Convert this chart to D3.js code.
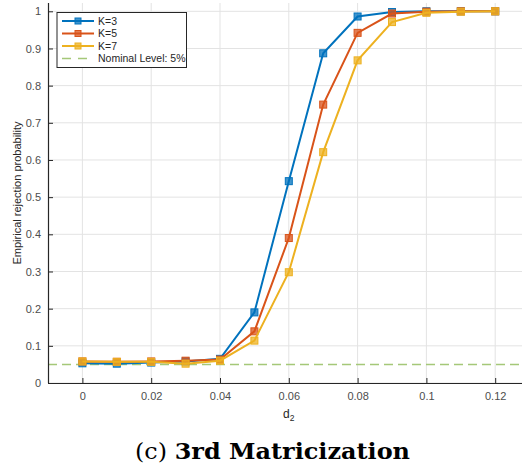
<!DOCTYPE html>
<html>
<head>
<meta charset="utf-8">
<script src="https://cdn.jsdelivr.net/npm/d3@7"></script>
<style>
html,body{margin:0;padding:0;background:#fff;}
svg{display:block;}
</style>
</head>
<body>
<svg id="chart" width="522" height="470"></svg>
<script>
const d2 = [0, 0.01, 0.02, 0.03, 0.04, 0.05, 0.06, 0.07, 0.08, 0.09, 0.10, 0.11, 0.12];
const k3 = [0.053, 0.052, 0.055, 0.058, 0.065, 0.19, 0.543, 0.887, 0.986, 0.998, 1.0, 1.0, 1.0];
const k5 = [0.058, 0.057, 0.058, 0.060, 0.063, 0.139, 0.390, 0.749, 0.942, 0.994, 0.999, 1.0, 1.0];
const k7 = [0.058, 0.057, 0.057, 0.052, 0.060, 0.114, 0.298, 0.621, 0.868, 0.971, 0.996, 0.999, 1.0];
const seriesNames = ["K=3", "K=5", "K=7"];
const nominalLabel = "Nominal Level: 5%";
const nominal = 0.05;
const xTicks = [0, 0.02, 0.04, 0.06, 0.08, 0.1, 0.12];
const yTicks = [0, 0.1, 0.2, 0.3, 0.4, 0.5, 0.6, 0.7, 0.8, 0.9, 1];
const colors = ["#0072BD", "#D95319", "#EDB120"];
const nominalColor = "#A5C878";

(function () {
const svg = d3.select("#chart");
const pLeft = 48, pBottom = 383, pTop = 3;
const x = d3.scaleLinear().domain([-0.01, 0.13]).range([pLeft, pLeft + 68.8 * 7]);
const y = d3.scaleLinear().domain([0, 1]).range([pBottom, 11.3]);
const xRight = 522;

// grid
const g = svg.append("g");
g.selectAll("line.vg").data(xTicks).enter().append("line")
  .attr("x1", d => x(d)).attr("x2", d => x(d)).attr("y1", pTop).attr("y2", pBottom)
  .attr("stroke", "#e3e3e3").attr("stroke-width", 1);
g.selectAll("line.hg").data(yTicks).enter().append("line")
  .attr("x1", pLeft).attr("x2", xRight).attr("y1", d => y(d)).attr("y2", d => y(d))
  .attr("stroke", "#e3e3e3").attr("stroke-width", 1);

// nominal line
svg.append("line")
  .attr("x1", pLeft).attr("x2", xRight).attr("y1", y(nominal)).attr("y2", y(nominal))
  .attr("stroke", nominalColor).attr("stroke-width", 1.5).attr("stroke-dasharray", "9,5");

// series
const allSeries = [k3, k5, k7];
const line = d3.line().x((d, i) => x(d2[i])).y(d => y(d));
allSeries.forEach((s, si) => {
  const sg = svg.append("g");
  sg.append("path").datum(s).attr("d", line).attr("fill", "none")
    .attr("stroke", colors[si]).attr("stroke-width", 2);
  sg.selectAll("rect").data(s).enter().append("rect")
    .attr("x", (d, i) => x(d2[i]) - 3.5).attr("y", d => y(d) - 3.5)
    .attr("width", 7).attr("height", 7)
    .attr("fill", colors[si]).attr("fill-opacity", 0.75)
    .attr("stroke", colors[si]).attr("stroke-width", 1);
});

// axes
const axisColor = "#262626";
const xAxis = d3.axisBottom(x).tickValues(xTicks).tickSize(0).tickPadding(9)
  .tickFormat(d => d3.format("~g")(d));
const xa = svg.append("g").attr("transform", `translate(0,${pBottom})`).call(xAxis);
xa.select(".domain").attr("stroke", axisColor).attr("stroke-width", 1.2)
  .attr("d", `M${pLeft},0.5H${xRight}`);
xa.selectAll(".tick text").attr("fill", "#4d4d4d").attr("font-family", "Liberation Sans, Arial, sans-serif").attr("font-size", "11px");
xa.selectAll(".tick").append("line").attr("y1", 0).attr("y2", -5).attr("stroke", axisColor);

const yAxis = d3.axisLeft(y).tickValues(yTicks).tickSize(0).tickPadding(7)
  .tickFormat(d => d3.format("~g")(d));
const ya = svg.append("g").attr("transform", `translate(${pLeft},0)`).call(yAxis);
ya.select(".domain").attr("stroke", axisColor).attr("stroke-width", 1.2)
  .attr("d", `M0.5,${pTop}V${pBottom}`);
ya.selectAll(".tick text").attr("fill", "#4d4d4d").attr("font-family", "Liberation Sans, Arial, sans-serif").attr("font-size", "11px");
ya.selectAll(".tick").append("line").attr("x1", 0).attr("x2", 5).attr("stroke", axisColor);

// axis labels
const xl = svg.append("text").attr("x", x(0.06)).attr("y", 418).attr("text-anchor", "middle")
  .attr("font-family", "Liberation Sans, Arial, sans-serif").attr("font-size", "12px").attr("fill", "#262626");
xl.append("tspan").text("d");
xl.append("tspan").attr("font-size", "8.5px").attr("dy", 3).text("2");

svg.append("text").attr("transform", `translate(21,${(pTop + pBottom) / 2}) rotate(-90)`)
  .attr("text-anchor", "middle").attr("font-family", "Liberation Sans, Arial, sans-serif")
  .attr("font-size", "11px").attr("fill", "#262626").text("Empirical rejection probability");

// legend
const lg = svg.append("g");
lg.append("rect").attr("x", 57).attr("y", 12.5).attr("width", 129.5).attr("height", 55)
  .attr("fill", "#fff").attr("stroke", "#262626").attr("stroke-width", 1);
const rows = [21, 33.5, 46, 58.5];
seriesNames.forEach((n, i) => {
  lg.append("line").attr("x1", 62).attr("x2", 94).attr("y1", rows[i]).attr("y2", rows[i])
    .attr("stroke", colors[i]).attr("stroke-width", 2);
  lg.append("rect").attr("x", 78 - 3).attr("y", rows[i] - 3).attr("width", 6).attr("height", 6)
    .attr("fill", colors[i]).attr("fill-opacity", 0.75).attr("stroke", colors[i]);
  lg.append("text").attr("x", 98).attr("y", rows[i] + 3.8).attr("font-family", "Liberation Sans, Arial, sans-serif")
    .attr("font-size", "10.5px").attr("fill", "#262626").text(n);
});
lg.append("line").attr("x1", 62).attr("x2", 94).attr("y1", rows[3]).attr("y2", rows[3])
  .attr("stroke", nominalColor).attr("stroke-width", 1.5).attr("stroke-dasharray", "9,7");
lg.append("text").attr("x", 98).attr("y", rows[3] + 3.8).attr("font-family", "Liberation Sans, Arial, sans-serif")
  .attr("font-size", "10.5px").attr("fill", "#262626").text(nominalLabel);

// caption
const cap = svg.append("text").attr("x", 135).attr("y", 459)
  .attr("font-family", "DejaVu Serif, Liberation Serif, serif").attr("font-size", "22.5px").attr("fill", "#000")
  .attr("textLength", 275).attr("lengthAdjust", "spacingAndGlyphs");
cap.append("tspan").text("(c) ");
cap.append("tspan").attr("font-weight", "bold").text("3rd Matricization");
})();
</script>
</body>
</html>
